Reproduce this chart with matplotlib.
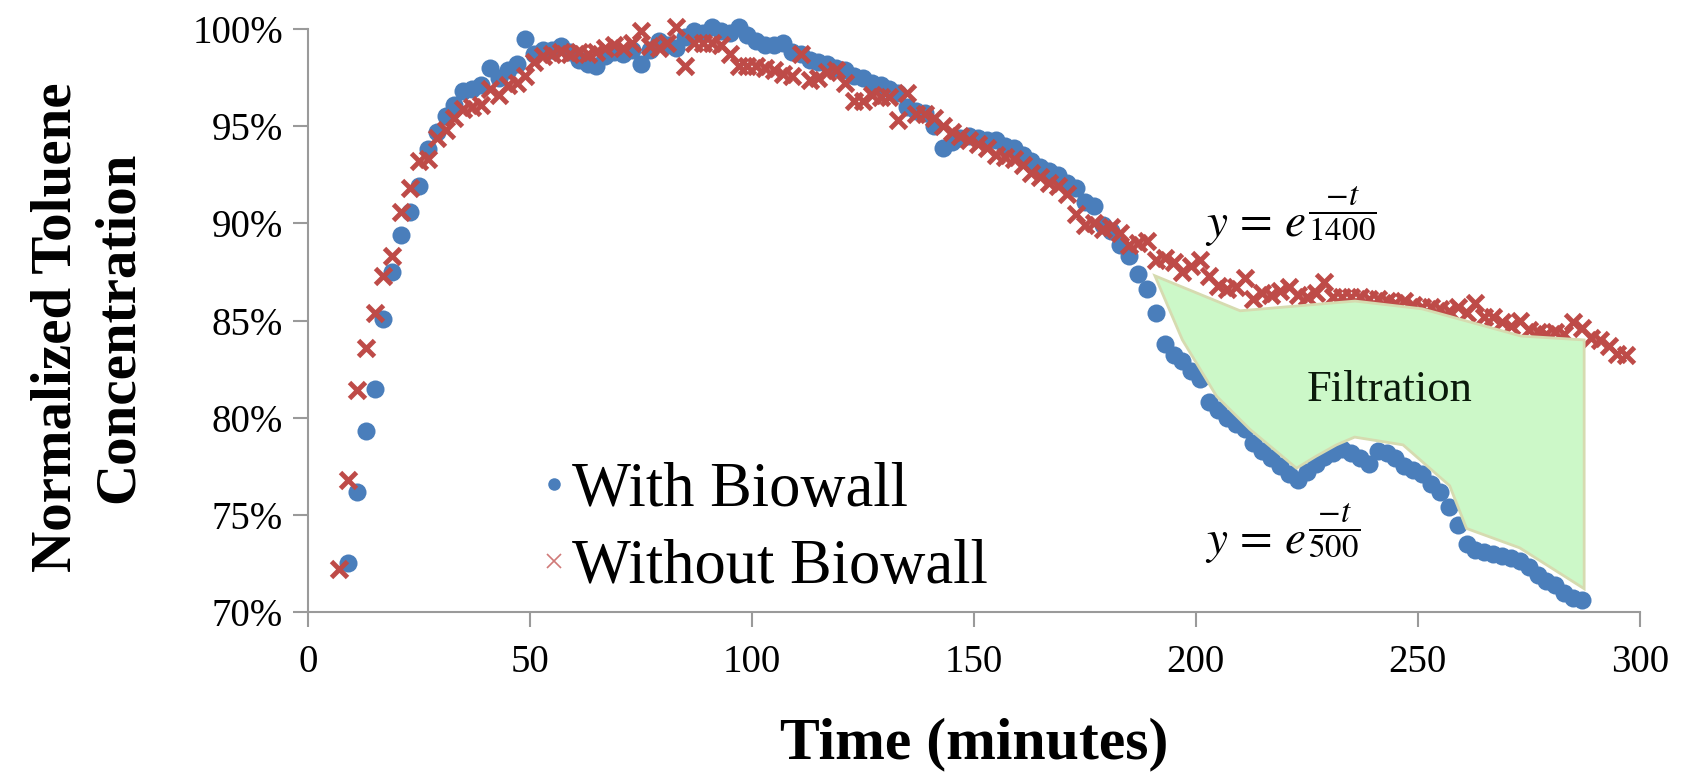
import matplotlib
matplotlib.use("Agg")
import matplotlib.pyplot as plt
from matplotlib.lines import Line2D
from matplotlib.patches import Polygon
from matplotlib.ticker import FuncFormatter

plt.rcParams['font.family'] = ['Liberation Serif', 'DejaVu Serif']
plt.rcParams['mathtext.fontset'] = 'stix'

# sampling grid (minutes), one reading every 2 minutes
bio_t = list(range(9, 288, 2))
nobio_t = list(range(7, 298, 2))

# With Biowall, % of max
bio_y = [72.5, 76.2, 79.3, 81.5, 85.1, 87.5, 89.4, 90.6, 91.9, 93.8,
         94.7, 95.5, 96.1, 96.8, 96.9, 97.1, 98.0, 97.5, 97.9, 98.2,
         99.5, 98.7, 98.9, 98.9, 99.1, 98.8, 98.4, 98.2, 98.1, 98.6,
         98.8, 98.7, 98.9, 98.2, 98.9, 99.4, 99.2, 99.0, 99.6, 99.9,
         99.8, 100.1, 99.9, 99.8, 100.1, 99.7, 99.4, 99.2, 99.2, 99.3,
         98.8, 98.7, 98.4, 98.3, 98.2, 98.0, 97.9, 97.6, 97.5, 97.2,
         97.1, 96.9, 96.7, 96.0, 95.8, 95.7, 95.0, 93.9, 94.2, 94.4,
         94.5, 94.4, 94.3, 94.3, 94.0, 93.9, 93.5, 93.2, 92.9, 92.7,
         92.5, 92.1, 91.8, 91.1, 90.9, 89.9, 89.6, 88.9, 88.3, 87.4,
         86.6, 85.4, 83.8, 83.2, 82.9, 82.4, 82.0, 80.8, 80.4, 80.0,
         79.7, 79.4, 78.7, 78.3, 77.9, 77.5, 77.1, 76.8, 77.2, 77.6,
         78.0, 78.2, 78.4, 78.2, 77.9, 77.6, 78.3, 78.2, 77.9, 77.5,
         77.3, 77.1, 76.6, 76.2, 75.4, 74.5, 73.5, 73.2, 73.1, 73.0,
         72.9, 72.8, 72.6, 72.3, 71.9, 71.6, 71.4, 71.0, 70.7, 70.6]

# Without Biowall, % of max
nobio_y = [72.2, 76.8, 81.4, 83.6, 85.4, 87.3, 88.3, 90.6, 91.8, 93.2,
           93.3, 94.4, 94.8, 95.4, 95.9, 96.0, 96.1, 96.9, 96.6, 97.1,
           97.2, 97.6, 98.3, 98.6, 98.7, 98.8, 98.7, 98.8, 98.7, 98.8,
           99.0, 99.2, 99.0, 99.3, 99.9, 99.1, 99.0, 99.3, 100.1, 98.1,
           99.3, 99.3, 99.3, 99.2, 98.7, 98.1, 98.1, 98.1, 98.0, 97.9,
           97.7, 97.6, 98.7, 97.4, 97.5, 97.8, 97.9, 97.2, 96.3, 96.3,
           96.6, 96.5, 96.5, 95.3, 96.7, 95.6, 95.6, 95.4, 95.0, 94.7,
           94.5, 94.3, 94.1, 93.9, 93.5, 93.4, 93.3, 93.0, 92.6, 92.4,
           92.1, 91.9, 91.5, 90.5, 89.9, 90.0, 89.7, 89.8, 89.5, 88.9,
           89.0, 89.1, 88.1, 88.2, 88.0, 87.5, 87.8, 88.1, 87.3, 86.8,
           86.6, 86.7, 87.2, 86.1, 86.4, 86.3, 86.5, 86.7, 86.3, 86.2,
           86.4, 87.0, 86.2, 86.2, 86.2, 86.2, 86.1, 86.1, 86.0, 85.9,
           86.0, 85.8, 85.7, 85.7, 85.6, 85.5, 85.7, 85.4, 85.9, 85.2,
           85.2, 84.9, 84.7, 85.0, 84.5, 84.4, 84.3, 84.4, 84.3, 84.9,
           84.6, 84.1, 84.0, 83.7, 83.3, 83.2]

# hand-drawn "Filtration" region between the two curves
filt_t = [190.8, 210.0, 235.9, 251.0, 273.3, 287.5, 287.5, 273.0, 261.0,
          257.2, 246.7, 235.8, 231.7, 227.0, 222.7, 212.2, 204.7, 197.0]
filt_y = [87.3, 85.5, 86.0, 85.6, 84.2, 84.0, 71.2, 73.3, 74.3,
          76.5, 78.6, 79.0, 78.6, 78.0, 77.4, 79.4, 81.1, 84.0]

blue = '#4a7ebb'
red = '#be4b48'
gray = '#9a9a9a'

fig = plt.figure(figsize=(16.9, 7.75), dpi=100)
ax = fig.add_axes([0.1822, 0.2103, 0.788, 0.7523])

ax.plot(bio_t, bio_y, 'o', color=blue, markersize=13, markeredgewidth=0,
        linestyle='none', zorder=3, clip_on=False)
ax.plot(nobio_t, nobio_y, 'x', color=red, markersize=11, markeredgewidth=3.5,
        linestyle='none', zorder=4, clip_on=False)

poly = Polygon(list(zip(filt_t, filt_y)), closed=True, facecolor='#ccf8c8',
               edgecolor='#d6dbb0', linewidth=2, zorder=5)
ax.add_patch(poly)
ax.text(243.7, 81.4, 'Filtration', fontsize=32, ha='center', va='center',
        color='#0a1a0a', zorder=6)

ax.text(202, 89.3, r'$y\,=\,e^{\dfrac{-t}{1400}}$', fontsize=34, ha='left',
        va='baseline', zorder=6)
ax.text(202, 73.0, r'$y\,=\,e^{\dfrac{-t}{500}}$', fontsize=34, ha='left',
        va='baseline', zorder=6)

ax.set_xlim(0, 300)
ax.set_ylim(70, 100)
ax.set_xticks(range(0, 301, 50))
ax.set_yticks(range(70, 101, 5))
ax.yaxis.set_major_formatter(FuncFormatter(lambda v, p: f'{v:.0f}%'))

for side in ('top', 'right'):
    ax.spines[side].set_visible(False)
for side in ('left', 'bottom'):
    ax.spines[side].set_color(gray)
    ax.spines[side].set_linewidth(1.5)
ax.tick_params(axis='both', direction='out', length=11, width=1.5,
               color=gray, labelsize=28, pad=7)
ax.tick_params(axis='x', pad=12)

ax.set_xlabel('Time (minutes)', fontsize=43, fontweight='bold', labelpad=26)
fig.text(88 / 1690, 1 - 327 / 775, 'Normalized Toluene\nConcentration',
         rotation=90, fontsize=41, fontweight='bold', ha='center', va='center',
         multialignment='center', linespacing=1.25)

handles = [Line2D([], [], marker='o', color=blue, markersize=9,
                  markeredgewidth=0, linestyle='none'),
           Line2D([], [], marker='x', color='#d07a78', markersize=10,
                  markeredgewidth=1.2, linestyle='none')]
ax.legend(handles, ['With Biowall', 'Without Biowall'], loc='upper left',
          bbox_to_anchor=(538 / 1690, 1 - 462 / 775),
          bbox_transform=fig.transFigure, frameon=False, fontsize=45,
          handlelength=0.5, handletextpad=0.05, borderpad=0,
          borderaxespad=0, labelspacing=0.3)

fig.savefig('out.png', dpi=100)
